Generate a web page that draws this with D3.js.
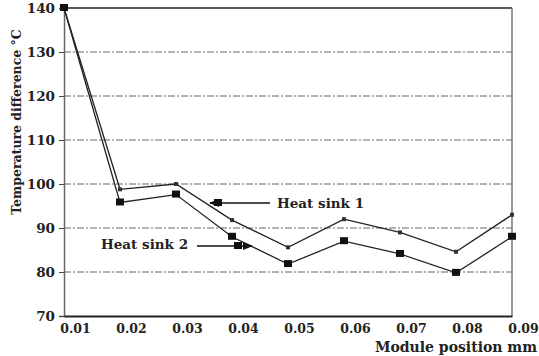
<!DOCTYPE html>
<html>
<head>
<meta charset="utf-8">
<script src="https://cdn.jsdelivr.net/npm/d3@7"></script>
<style>
body { margin: 0; background: #fff; }
text { font-family: "DejaVu Serif", serif; font-weight: bold; }
</style>
</head>
<body>
<svg class="chart"></svg>
<script>
var width = 539
var height = 356
var margin = {top: 8, right: 27, bottom: 40, left: 64};
var w = width - margin.left - margin.right
var h = height - margin.top - margin.bottom

// data
var positions = [0.01, 0.02, 0.03, 0.04, 0.05, 0.06, 0.07, 0.08, 0.09]
var sink1 = [140, 98.8, 100, 91.8, 85.6, 92, 89, 84.6, 93]
var sink2 = [140, 95.8, 97.6, 88, 81.8, 87, 84.1, 79.8, 88]
var yTicks = [70, 80, 90, 100, 110, 120, 130, 140]

var svg = d3.select(".chart")
  .attr("width", width)
  .attr("height", height)

var chart = svg.append("g")
  .attr("transform", "translate(" + margin.left + "," + margin.top + ")")

var xChart = d3.scaleLinear().domain([0.01, 0.09]).range([0, w])
var yChart = d3.scaleLinear().domain([70, 140]).range([h, 0])

// grid lines
chart.selectAll(".grid")
  .data(yTicks.filter(function(d){ return d > 70 && d < 140 }))
  .enter().append("line")
  .attr("class", "grid")
  .attr("x1", 0).attr("x2", w)
  .attr("y1", function(d){ return yChart(d) })
  .attr("y2", function(d){ return yChart(d) })
  .attr("stroke", "#666")
  .attr("stroke-width", 1)
  .attr("stroke-dasharray", "7,2,2,2")

// frame
chart.append("line").attr("x1", 0).attr("x2", w).attr("y1", 0).attr("y2", 0)
  .attr("stroke", "#222").attr("stroke-width", 1.5)
chart.append("line").attr("x1", w).attr("x2", w).attr("y1", 0).attr("y2", h)
  .attr("stroke", "#777").attr("stroke-width", 1.5)

var yAxis = d3.axisLeft(yChart).tickValues(yTicks).tickSize(5).tickFormat(d3.format("d"))
var xAxis = d3.axisBottom(xChart).tickValues(positions).tickSize(0).tickFormat(d3.format(".2f"))

var gy = chart.append("g").call(yAxis)
gy.select(".domain").attr("stroke", "#666").attr("stroke-width", 1.5)
gy.selectAll(".tick line").attr("stroke", "#444")
gy.selectAll("text").attr("font-size", 13.5).attr("fill", "#222").attr("dx", "-1")

var gx = chart.append("g").attr("transform", "translate(0," + h + ")").call(xAxis)
gx.select(".domain").attr("stroke", "#222").attr("stroke-width", 2)
gx.selectAll("text").attr("font-size", 12.5).attr("fill", "#222")
  .attr("dx", "11").attr("dy", "14")

// lines
var line = d3.line()
  .x(function(d, i){ return xChart(positions[i]) })
  .y(function(d){ return yChart(d) })

chart.append("path").datum(sink1).attr("d", line)
  .attr("fill", "none").attr("stroke", "#222").attr("stroke-width", 1.3)
chart.append("path").datum(sink2).attr("d", line)
  .attr("fill", "none").attr("stroke", "#222").attr("stroke-width", 1.3)

chart.selectAll(".m1").data(sink1).enter().append("rect")
  .attr("class", "m1")
  .attr("x", function(d, i){ return xChart(positions[i]) - 2 })
  .attr("y", function(d){ return yChart(d) - 2 })
  .attr("width", 4).attr("height", 4).attr("fill", "#333")

chart.selectAll(".m2").data(sink2).enter().append("rect")
  .attr("class", "m2")
  .attr("x", function(d, i){ return xChart(positions[i]) - 4 })
  .attr("y", function(d){ return yChart(d) - 4 })
  .attr("width", 8).attr("height", 7).attr("fill", "#111")

// annotations with arrows
svg.append("defs").append("marker")
  .attr("id", "arrow").attr("viewBox", "0 0 10 10")
  .attr("refX", 9).attr("refY", 5)
  .attr("markerWidth", 7).attr("markerHeight", 7)
  .attr("orient", "auto-start-reverse")
  .append("path").attr("d", "M0,1 L10,5 L0,9 Z").attr("fill", "#111")

function label(txt, tx, ty, x1, x2, y, sq) {
  svg.append("line").attr("x1", x1).attr("x2", x2).attr("y1", y).attr("y2", y)
    .attr("stroke", "#111").attr("stroke-width", 1.5).attr("marker-end", "url(#arrow)")
  svg.append("rect").attr("x", sq - 4).attr("y", y - 4).attr("width", 8).attr("height", 7).attr("fill", "#111")
  svg.append("text").attr("x", tx).attr("y", ty).attr("font-size", 13.5).attr("fill", "#222").text(txt)
}
label("Heat sink 1", 277, 208, 270, 210, 203, 218)
label("Heat sink 2", 101, 249, 197, 252, 246, 238)

// axis titles
svg.append("text")
  .attr("transform", "translate(21," + 122 + ") rotate(-90)")
  .attr("text-anchor", "middle").attr("font-size", 12.5).attr("fill", "#222")
  .text("Temperature difference °C")

svg.append("text")
  .attr("x", 537).attr("y", 352).attr("text-anchor", "end")
  .attr("font-size", 14).attr("fill", "#222")
  .text("Module position mm")
</script>
</body>
</html>
